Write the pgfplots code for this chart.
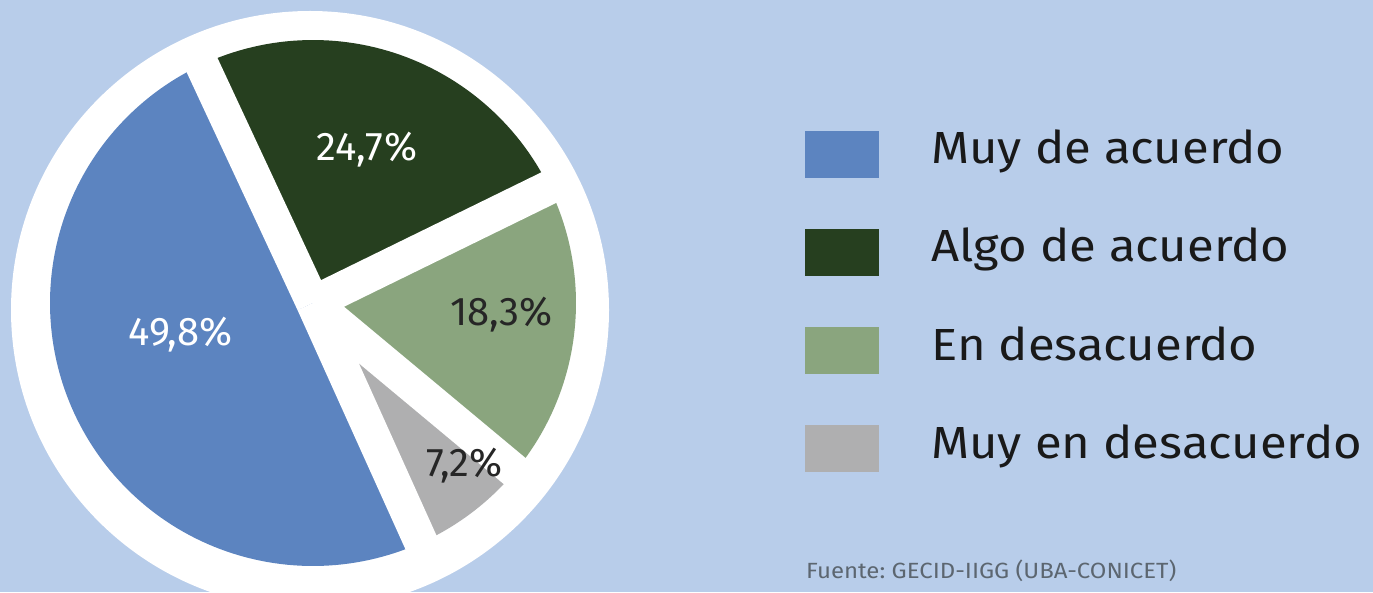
\documentclass[border=0pt]{standalone}
\usepackage{pgfplots}
\pgfplotsset{compat=1.18}
\usepgfplotslibrary{polar}
\usepackage{fontspec}
\setmainfont{Fira Sans}
\newfontfamily\widefont{Fira Sans}[FakeStretch=1.09]
\frenchspacing
\definecolor{bg}{HTML}{B8CDEA}
\definecolor{cblue}{HTML}{5C84C0}
\definecolor{cdark}{HTML}{263F1F}
\definecolor{clight}{HTML}{8AA57E}
\definecolor{cgray}{HTML}{AFAFB0}
\definecolor{csrc}{HTML}{5C6670}
% data (percent)
\def\vA{49.8}\def\vB{24.7}\def\vC{18.3}\def\vD{7.2}
\def\S{115}
\pgfmathsetmacro\eA{\S+\vA*3.6}
\pgfmathsetmacro\aB{\S-\vB*3.6}
\pgfmathsetmacro\aC{\aB-\vC*3.6}
\pgfmathsetmacro\aD{\aC-\vD*3.6}
\begin{document}
\begin{tikzpicture}
\useasboundingbox (0,0) rectangle (1373pt,592pt);
\clip (0,0) rectangle (1373pt,592pt);
\fill[bg] (0,0) rectangle (1373pt,592pt);
\begin{axis}[at={(0pt,0pt)}, anchor=south west, scale only axis,
  width=1373pt, height=592pt, xmin=0, xmax=1373, ymin=0, ymax=592,
  hide axis, clip=false]
  \fill[white] (axis cs:310,282) circle[radius=299pt];
  % legend keys
  \addplot[fill=cblue, draw=none] coordinates {(805,414) (879,414) (879,461) (805,461)} -- cycle;
  \addplot[fill=cdark, draw=none] coordinates {(805,316) (879,316) (879,363) (805,363)} -- cycle;
  \addplot[fill=clight, draw=none] coordinates {(805,218) (879,218) (879,265) (805,265)} -- cycle;
  \addplot[fill=cgray, draw=none] coordinates {(805,120) (879,120) (879,167) (805,167)} -- cycle;
  \begin{scope}[every node/.style={anchor=base west, inner sep=0pt, font=\widefont\fontsize{45}{54}\selectfont, text=black!90}]
  \node at (axis cs:931,428) {Muy de acuerdo};
  \node at (axis cs:931,330) {Algo de acuerdo};
  \node at (axis cs:931,232) {En desacuerdo};
  \node at (axis cs:931,134) {Muy en desacuerdo};
  \end{scope}
  \node[anchor=base west, inner sep=0pt, font=\widefont\fontsize{22}{26}\selectfont, text=csrc] at (axis cs:806,14) {Fuente: GECID-IIGG (UBA-CONICET)};
\end{axis}
\begin{polaraxis}[at={(313pt,289pt)}, anchor=origin, scale only axis,
  width=598pt, height=598pt, xmin=0, xmax=360, ymin=0, ymax=299,
  hide axis, clip=false]
  \addplot[fill=cblue, draw=none, domain=\S:\eA, samples=121] {263} -- (axis cs:0,0) -- cycle;
  \addplot[fill=cdark, draw=none, domain=\aB:\S, samples=61] {263} -- (axis cs:0,0) -- cycle;
  \addplot[fill=clight, draw=none, domain=\aC:\aB, samples=61] {263} -- (axis cs:0,0) -- cycle;
  \addplot[fill=cgray, draw=none, domain=\aD:\aC, samples=31] {263} -- (axis cs:0,0) -- cycle;
  \addplot[white, line width=34pt] coordinates {(\S,0) (\S,285)};
  \addplot[white, line width=34pt] coordinates {(\aB,0) (\aB,285)};
  \addplot[white, line width=34pt] coordinates {(\aC,0) (\aC,285)};
  \addplot[white, line width=34pt] coordinates {(\aD,0) (\aD,285)};
  % slice labels (polar: angle, radius)
  \begin{scope}[every node/.style={anchor=base, inner sep=0pt, font=\fontsize{40}{48}\selectfont}]
  \node[text=white] at (axis cs:69.3,152) {24,7\%};
  \node[text=white] at (axis cs:197.8,139) {49,8\%};
  \node[text=black!85] at (axis cs:-6.9,190) {18,3\%};
  \node[text=black!85] at (axis cs:-48.8,230) {7,2\%};
  \end{scope}
\end{polaraxis}
\end{tikzpicture}
\end{document}
